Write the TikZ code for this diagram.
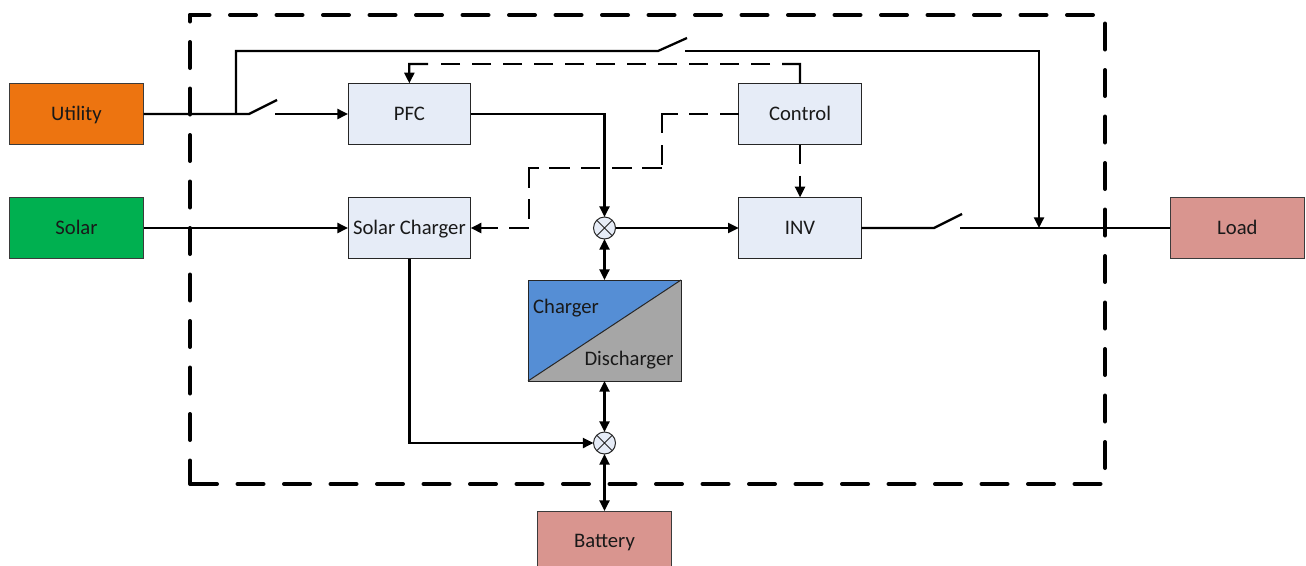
\documentclass[tikz,border=0pt]{standalone}
\usepackage{fontspec}
\setmainfont{Carlito}
\usetikzlibrary{arrows.meta,positioning}

\definecolor{utilorange}{HTML}{ED7410}
\definecolor{solargreen}{HTML}{00B050}
\definecolor{loadred}{HTML}{D9958F}
\definecolor{blockblue}{HTML}{E6ECF7}
\definecolor{chargeblue}{HTML}{558ED5}
\definecolor{dischargegray}{HTML}{A6A6A6}
\definecolor{edgegray}{HTML}{3B3B3B}

\tikzset{
    srcbox/.style={draw=edgegray, line width=0.75pt, minimum width=100.5pt, minimum height=46pt, inner sep=0pt, outer sep=0pt},
    blockbox/.style={draw=black!85, line width=0.75pt, fill=blockblue, minimum width=92pt, minimum height=46pt, inner sep=0pt, outer sep=0pt},
    mixer/.style={draw=black!85, line width=0.75pt, fill=blockblue, circle, minimum size=16.5pt, inner sep=0pt, outer sep=0pt},
    wire/.style={line width=1.7pt},
    wirearrow/.style={wire, -{Triangle[length=8pt,width=7.5pt]}},
    wiredouble/.style={wire, {Triangle[length=8pt,width=7.5pt]}-{Triangle[length=8pt,width=7.5pt]}},
    ctrlline/.style={line width=1.7pt, dash pattern=on 14.25pt off 9pt},
    ctrlarrow/.style={ctrlline, -{Triangle[length=8pt,width=7.5pt]}},
    ctrlrun/.style={ctrlarrow, dash pattern=on 14.25pt off 9pt on 14.25pt off 8.25pt on 26.25pt off 9pt on 15pt off 2.25pt on 15pt off 7.5pt on 15pt off 9pt on 14.25pt off 8.25pt on 15.75pt off 7.5pt on 22.5pt off 8.25pt on 15pt off 6.75pt on 15pt off 8.25pt on 30pt},
    enclosure/.style={line width=3pt, line cap=round, dash pattern=on 19.5pt off 15.375pt}
}

\begin{document}
\begin{tikzpicture}[x=0.75pt, y=-0.75pt, font=\fontsize{15.5}{18}\selectfont, text=black!90,
    every node/.append style={text height=11.6pt, text depth=2.6pt}]
    \useasboundingbox (0,0) rectangle (1306,565);

    % outer frame
    \coordinate (framenw) at (190,15);
    \coordinate (framene) at (1105,15);
    \coordinate (framese) at (1105,484);
    \coordinate (framesw) at (190,484);
    \draw[enclosure, dash phase=4.875pt] (framenw) -- (framene) -- (framese) -- (framesw);
    \draw[enclosure, dash phase=14.625pt] (framenw) -- (framesw);

    % sources and blocks
    \node[srcbox, fill=utilorange] (utility) at (76.5,114) {Utility};
    \node[srcbox, fill=solargreen, below=39.5pt of utility] (solar) {Solar};
    \node[blockbox, right=153.4pt of utility] (pfc) {PFC};
    \node[blockbox, below=39.5pt of pfc] (solarchg) {Solar Charger};
    \node[blockbox, right=201pt of pfc] (control) {Control};
    \node[blockbox, below=39.5pt of control] (inv) {INV};
    \node[srcbox, fill=loadred, right=231.75pt of inv] (load) {Load};

    % storage path
    \node[mixer] (mixtop) at (604.5,228) {};
    \node[minimum width=114.75pt, minimum height=75.75pt, inner sep=0pt, outer sep=0pt, below=30.75pt of mixtop] (chgbox) {};
    \fill[chargeblue] (chgbox.south west) -- (chgbox.north west) -- (chgbox.north east) -- cycle;
    \fill[dischargegray] (chgbox.south west) -- (chgbox.south east) -- (chgbox.north east) -- cycle;
    \draw[line width=0.75pt, black!85] (chgbox.south west) rectangle (chgbox.north east);
    \draw[line width=0.75pt, black!85] (chgbox.south west) -- (chgbox.north east);
    \node (chglabel) at (566,307) {Charger};
    \node (dislabel) at (629,359) {Discharger};
    \node[mixer, below=38.25pt of chgbox] (mixbot) {};
    \node[srcbox, fill=loadred, below=42.75pt of mixbot] (battery) {Battery};
    \draw[line width=0.75pt, black!85] (mixtop.45) -- (mixtop.225) (mixtop.135) -- (mixtop.315);
    \draw[line width=0.75pt, black!85] (mixbot.45) -- (mixbot.225) (mixbot.135) -- (mixbot.315);

    % switch contacts and bends
    \coordinate (tapin) at (236,114);
    \coordinate (swaleft) at (249,114);
    \coordinate (swatip) at (277,100);
    \coordinate (swaright) at (275,114);
    \coordinate (tapup) at (236,51);
    \coordinate (swbleft) at (658,51);
    \coordinate (swbtip) at (687,38);
    \coordinate (swbright) at (685,51);
    \coordinate (bypass) at (1039,51);
    \coordinate (tapout) at (1039,228);
    \coordinate (swcleft) at (934,228);
    \coordinate (swctip) at (962,214);
    \coordinate (swcright) at (960,228);
    \coordinate (ctrlup) at (800,64);
    \coordinate (ctrlupend) at (782,64);
    \coordinate (ctrldash) at (770,64);
    \coordinate (pfcdash) at (429,64);
    \coordinate (pfcupend) at (428,64);
    \coordinate (pfcup) at (409.33,64);
    \coordinate (ctrlbenda) at (662,114);
    \coordinate (ctrlbendb) at (662,168);
    \coordinate (ctrlbendc) at (529,168);
    \coordinate (ctrlbendd) at (529,228);

    % power wires
    \draw[wire] (utility) -- (swaleft) -- (swatip);
    \draw[wirearrow] (swaright) -- (pfc);
    \draw[wire] (tapin) -- (tapup) -- (swbleft) -- (swbtip);
    \draw[wirearrow] (swbright) -- (bypass) -- (tapout);
    \draw[wirearrow] (solar) -- (solarchg);
    \draw[wirearrow] (pfc.east) -| (mixtop.north);
    \draw[wirearrow] (mixtop) -- (inv);
    \draw[wire] (inv) -- (swcleft) -- (swctip);
    \draw[wire] (swcright) -- (load);
    \draw[wiredouble] (mixtop) -- (chgbox);
    \draw[wiredouble] (chgbox) -- (mixbot);
    \draw[wiredouble] (mixbot) -- (battery);
    \draw[wirearrow] (solarchg.south) |- (mixbot.west);

    % control lines
    \draw[wire] (control.north) -- (ctrlup) -- (ctrlupend);
    \draw[ctrlline] (ctrldash) -- (pfcdash);
    \draw[wirearrow] (pfcupend) -- (pfcup) -- (pfc.north);
    \draw[ctrlrun] (control.west) -- (ctrlbenda) -- (ctrlbendb) -- (ctrlbendc) -- (ctrlbendd) -- (solarchg.east);
    \draw[ctrlarrow] (control) -- (inv);
\end{tikzpicture}
\end{document}
